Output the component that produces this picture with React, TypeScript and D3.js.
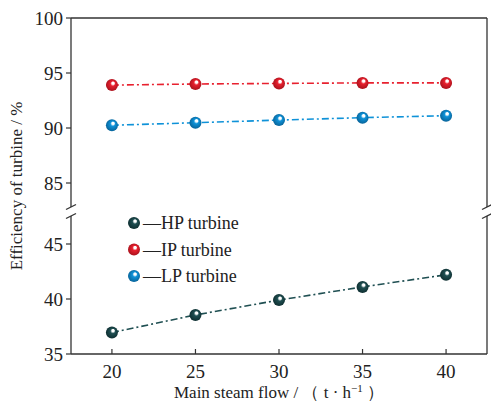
import * as d3 from "d3";
import React from "react";

const flow = [20, 25, 30, 35, 40];
const hpEff = [36.95, 38.55, 39.9, 41.1, 42.2];
const ipEff = [93.9, 94.0, 94.05, 94.1, 94.1];
const lpEff = [90.25, 90.48, 90.72, 90.94, 91.12];
const xTicks = [20, 25, 30, 35, 40];
const upperTicks = [85, 90, 95, 100];
const lowerTicks = [35, 40, 45];

const series = [
  { name: "HP turbine", values: hpEff, color: "#1f4f52", dark: "#0d2b2d", upper: false },
  { name: "IP turbine", values: ipEff, color: "#e8212f", dark: "#a3101a", upper: true },
  { name: "LP turbine", values: lpEff, color: "#0f92d8", dark: "#075f93", upper: true },
];

const W = 491;
const H = 403;
const left = 71;
const right = 487;
const top = 18;
const bottom = 354;
const breakTop = 207;
const breakBottom = 216;
const font = '"Liberation Serif", "Tinos", "Times New Roman", "DejaVu Serif", "Noto Serif", serif';

export default function App() {
  const x = d3.scaleLinear().domain([17.55, 42.45]).range([left, right]);
  const yUp = d3.scaleLinear().domain([85, 100]).range([183, top]);
  const yLow = d3.scaleLinear().domain([35, 45]).range([bottom, 244]);

  const slash = (cx: number, cy: number) => (
    <line x1={cx - 5} y1={cy + 2.5} x2={cx + 5} y2={cy - 2.5} stroke="#333" strokeWidth={1.3} />
  );

  return (
    <svg width={W} height={H} style={{ position: "absolute", left: 0, top: 0, background: "#fff" }}>
      <style>{`text { font-family: ${font}; }`}</style>
      <defs>
        {series.map((s, i) => (
          <radialGradient key={i} id={`ball${i}`} cx="0.5" cy="0.5" r="0.55" fx="0.62" fy="0.3">
            <stop offset="0%" stopColor="#fff" />
            <stop offset="18%" stopColor="#fff" />
            <stop offset="38%" stopColor={s.color} />
            <stop offset="100%" stopColor={s.dark} />
          </radialGradient>
        ))}
      </defs>

      {/* frame with broken y axis */}
      <g stroke="#333" strokeWidth={1.3} fill="none">
        <line x1={left} y1={top} x2={right} y2={top} />
        <line x1={left} y1={bottom} x2={right} y2={bottom} />
        <line x1={left} y1={top} x2={left} y2={breakTop} />
        <line x1={left} y1={breakBottom} x2={left} y2={bottom} />
        <line x1={right} y1={top} x2={right} y2={breakTop} />
        <line x1={right} y1={breakBottom} x2={right} y2={bottom} />
      </g>
      {slash(left, breakTop)}
      {slash(left, breakBottom)}
      {slash(right, breakTop)}
      {slash(right, breakBottom)}

      {/* y ticks */}
      {upperTicks.map((t) => (
        <g key={`u${t}`}>
          <line x1={left - 5} x2={left} y1={yUp(t)} y2={yUp(t)} stroke="#333" strokeWidth={1.2} />
          <text x={left - 8} y={yUp(t)} dy="0.35em" textAnchor="end" fontSize={19} fill="#222">
            {t}
          </text>
        </g>
      ))}
      {lowerTicks.map((t) => (
        <g key={`l${t}`}>
          <line x1={left - 5} x2={left} y1={yLow(t)} y2={yLow(t)} stroke="#333" strokeWidth={1.2} />
          <text x={left - 8} y={yLow(t)} dy="0.35em" textAnchor="end" fontSize={19} fill="#222">
            {t}
          </text>
        </g>
      ))}

      {/* x ticks */}
      {xTicks.map((t) => (
        <g key={`x${t}`}>
          <line x1={x(t)} x2={x(t)} y1={bottom - 5} y2={bottom} stroke="#333" strokeWidth={1.2} />
          <text x={x(t)} y={bottom + 24} textAnchor="middle" fontSize={19} fill="#222">
            {t}
          </text>
        </g>
      ))}

      {/* series */}
      {series.map((s, i) => {
        const y = s.upper ? yUp : yLow;
        const line = d3
          .line<number>()
          .x((_, j) => x(flow[j]))
          .y((v) => y(v));
        return (
          <g key={s.name}>
            <path d={line(s.values) || ""} fill="none" stroke={s.color} strokeWidth={1.6} strokeDasharray="7,3,2,3" />
            {s.values.map((v, j) => (
              <circle key={j} cx={x(flow[j])} cy={y(v)} r={6} fill={`url(#ball${i})`} />
            ))}
          </g>
        );
      })}

      {/* legend */}
      {series.map((s, i) => (
        <g key={`lg${i}`} transform={`translate(134, ${223 + i * 26.5})`}>
          <circle cx={0} cy={0} r={6} fill={`url(#ball${i})`} />
          <text x={9} y={0} dy="0.35em" fontSize={18} fill="#222">
            —{s.name}
          </text>
        </g>
      ))}

      {/* axis titles */}
      <text transform={`translate(22, 186) rotate(-90)`} textAnchor="middle" fontSize={17} fill="#222">
        Efficiency of turbine / %
      </text>
      <text x={279} y={398} textAnchor="middle" fontSize={17} fill="#222">
        Main steam flow / （ t · h
        <tspan dy={-6} fontSize={11}>−1</tspan>
        <tspan dy={6}> ）</tspan>
      </text>
    </svg>
  );
}
